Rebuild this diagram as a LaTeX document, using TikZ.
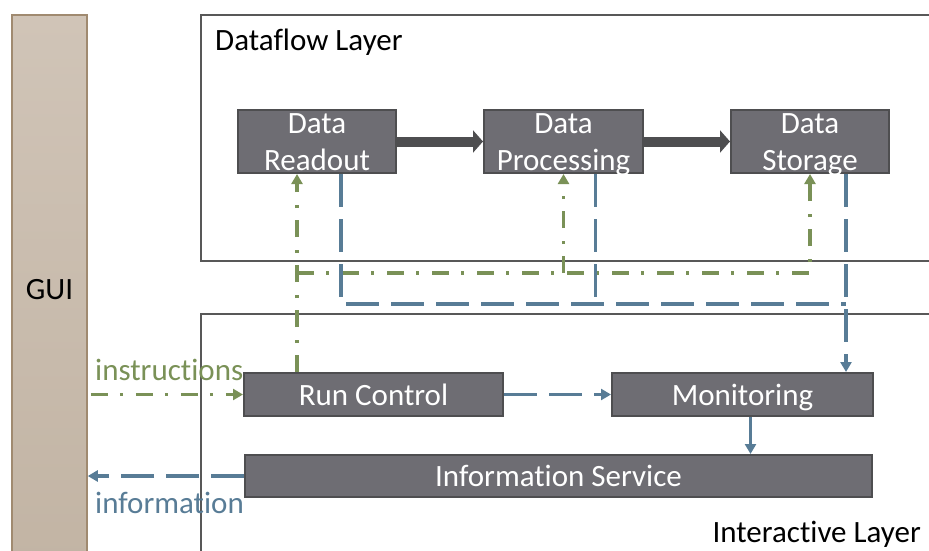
\documentclass[tikz,border=0pt]{standalone}
\usepackage{fontspec}
\setmainfont{Carlito}[Ligatures=NoCommon]
\usetikzlibrary{arrows.meta,positioning}
\definecolor{boxgray}{RGB}{110,109,115}
\definecolor{edgegray}{RGB}{78,78,80}
\definecolor{layergray}{RGB}{88,88,88}
\definecolor{instrgreen}{RGB}{122,145,87}
\definecolor{infoblue}{RGB}{88,124,150}
\definecolor{guitop}{RGB}{208,196,183}
\definecolor{guibot}{RGB}{194,180,164}
\definecolor{guiedge}{RGB}{160,138,112}

\begin{document}
\begin{tikzpicture}[x=1pt,y=-1pt,
  font=\fontsize{31}{37}\selectfont,
  box/.style={draw=edgegray,fill=boxgray,line width=2pt,text=white,inner sep=0pt,align=center},
  onebox/.style={box,text height=22pt,text depth=1pt},
  twobox/.style={box,minimum width=158,minimum height=63,text height=60pt,text depth=3pt},
  layer/.style={draw=layergray,line width=2.5pt},
  lbl/.style={inner sep=0pt},
  flow/.style={-{Triangle[length=10pt,width=22pt]},line width=10pt,draw=edgegray},
  instr/.style={instrgreen,line width=3.5pt,dash pattern=on 17pt off 12pt on 3pt off 13pt},
  info/.style={infoblue,line width=3.5pt,dash pattern=on 33pt off 12pt},
  tip/.style={-{Triangle[length=10pt,width=11pt]}}]
\useasboundingbox (0,0) rectangle (929,551);
\clip (0,0) rectangle (929,551);

\draw[layer] (201,15) rectangle (940,261);
\draw[layer] (201,314) rectangle (940,570);
\node[lbl,anchor=west] (dflabel) at (215,42) {Dataflow Layer};
\node[lbl,anchor=east] (iflabel) at (921,534) {Interactive Layer};

\node[draw=guiedge,line width=1.5pt,top color=guitop,bottom color=guibot,
  minimum width=75,minimum height=550] (gui) at (49.5,290) {GUI};

\node[twobox] (readout) at (317,141.5) {Data\\Readout};
\node[twobox,minimum width=159,right=86 of readout] (processing) {Data\\Processing};
\node[twobox,right=86 of processing] (storage) {Data\\Storage};
\node[onebox,minimum width=259,minimum height=43] (run) at (373.5,394.5) {Run Control};
\node[onebox,minimum width=261,minimum height=43,right=107 of run] (mon) {Monitoring};
\node[onebox,minimum width=627,minimum height=42,anchor=north west] (infosvc) at (244,454) {Information Service};

\draw[flow] (readout) -- (processing);
\draw[flow] (processing) -- (storage);

\coordinate (gsplit) at (297,273);
\draw[instr,tip] (run.north -| gsplit) -- (readout.south -| gsplit);
\draw[instr,tip] (gsplit) -| (storage.south);
\draw[instr,tip] (processing.south |- gsplit) -- (processing.south);

\coordinate (bjoin) at (846,304);
\draw[info] ([xshift=24pt]readout.south) |- (bjoin);
\draw[info] ([xshift=32pt]processing.south) -- ([xshift=32pt]processing.south |- bjoin);
\draw[info,tip] (storage.south -| bjoin) -- (mon.north -| bjoin);

\draw[instr,tip] ([xshift=3pt]gui.east |- run.west) -- (run.west);
\node[lbl,anchor=west,text=instrgreen] (instrlabel) at (95,370) {instructions};
\draw[info,tip] (run) -- (mon);
\draw[infoblue,line width=3.5pt,tip] ([xshift=8pt]mon.south) -- ([xshift=8pt]mon.south |- infosvc.north);
\draw[info,tip] (infosvc.west) -- (gui.east |- infosvc.west);
\node[lbl,anchor=west,text=infoblue] (infolabel) at (95,503) {information};
\end{tikzpicture}
\end{document}
